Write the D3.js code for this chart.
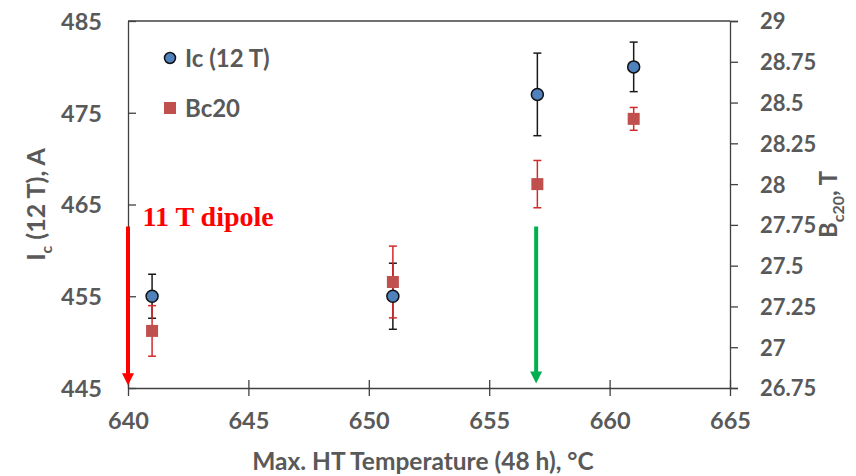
<!DOCTYPE html>
<html>
<head>
<meta charset="utf-8">
<script src="https://cdn.jsdelivr.net/npm/d3@7"></script>
<style>
  body { margin: 0; background: #fff; }
  text { font-family: Lato, "Open Sans", sans-serif; font-weight: bold; fill: #595959; }
</style>
</head>
<body>
<svg id="chart" width="856" height="476"></svg>
<script>
// Data
const temps = [641, 651, 657, 661];
const icValues = [455, 455, 477, 480];
const icErrors = [2.4, 3.6, 4.5, 2.7];
const bcValues = [27.1, 27.4, 28.0, 28.4];
const bcErrors = [0.155, 0.22, 0.145, 0.07];
const xTicks = [640, 645, 650, 655, 660, 665];
const leftTicks = [445, 455, 465, 475, 485];
const rightTicks = [26.75, 27, 27.25, 27.5, 27.75, 28, 28.25, 28.5, 28.75, 29];
const arrows = [
    { t: 640, from: 462.6, to: 445.3, color: "#ff0000" },
    { t: 656.95, from: 462.6, to: 445.5, color: "#00b050" }
];

const svg = d3.select("#chart");
const margin = { top: 21, right: 126, bottom: 88, left: 128 };
const width = 856 - margin.left - margin.right,
      height = 476 - margin.top - margin.bottom;
const g = svg.append("g").attr("transform", `translate(${margin.left},${margin.top})`);

// Scales
const x = d3.scaleLinear().domain([640, 665]).range([0, width]);
const yL = d3.scaleLinear().domain([445, 485]).range([height, 0]);
const yR = d3.scaleLinear().domain([26.75, 29]).range([height, 0]);

// Plot frame: top line
g.append("line")
    .attr("x1", 0).attr("x2", width).attr("y1", 0).attr("y2", 0)
    .attr("stroke", "#404040").attr("stroke-width", 1.3);

// Axes
const xAxis = g.append("g")
    .attr("transform", `translate(0,${height})`)
    .call(d3.axisBottom(x).tickValues(xTicks).tickSize(0).tickPadding(24).tickFormat(d3.format("d")));
xAxis.selectAll(".tick").append("line")
    .attr("y1", -8).attr("y2", 8).attr("stroke", "#404040").attr("stroke-width", 1.3);

const leftAxis = g.append("g")
    .call(d3.axisLeft(yL).tickValues(leftTicks).tickSizeInner(-8).tickSizeOuter(0).tickPadding(26));

const rightAxis = g.append("g")
    .attr("transform", `translate(${width},0)`)
    .call(d3.axisRight(yR).tickValues(rightTicks).tickSize(8).tickPadding(22).tickFormat(d => d3.format("")(d)));

[xAxis, leftAxis, rightAxis].forEach(a => {
    a.select(".domain").attr("stroke", "#404040").attr("stroke-width", 1.3);
    a.selectAll(".tick line").attr("stroke", "#404040").attr("stroke-width", 1.3);
    a.selectAll(".tick text").style("font-size", "23.5px").style("font-family", "Lato, sans-serif")
        .style("font-weight", "bold").attr("fill", "#595959");
});
leftAxis.selectAll(".tick text").attr("dy", "0.36em");
rightAxis.selectAll(".tick text").attr("dy", "0.36em").style("font-size", "22px");

// Arrows (shaft + head)
g.selectAll(".arrow-shaft")
    .data(arrows)
    .enter().append("line")
    .attr("class", "arrow-shaft")
    .attr("x1", d => x(d.t)).attr("x2", d => x(d.t))
    .attr("y1", d => yL(d.from)).attr("y2", d => yL(d.to) - 10)
    .attr("stroke", d => d.color)
    .attr("stroke-width", 4);

g.selectAll(".arrow-head")
    .data(arrows)
    .enter().append("path")
    .attr("class", "arrow-head")
    .attr("d", d => {
        const cx = x(d.t), tip = yL(d.to);
        return `M${cx - 6},${tip - 12} L${cx + 6},${tip - 12} L${cx},${tip} Z`;
    })
    .attr("fill", d => d.color);

// Annotation
g.append("text")
    .attr("x", x(640.6)).attr("y", yL(462.7))
    .style("font-family", "'Liberation Serif', 'Times New Roman', serif")
    .style("font-size", "28px")
    .style("fill", "#ff0000")
    .text("11 T dipole");

// Error bars
function errorBars(vals, errs, y, color, cls) {
    const eg = g.selectAll("." + cls)
        .data(temps.map((t, i) => ({ t, v: vals[i], e: errs[i] })))
        .enter().append("g").attr("class", cls);
    eg.append("line")
        .attr("x1", d => x(d.t)).attr("x2", d => x(d.t))
        .attr("y1", d => y(d.v - d.e)).attr("y2", d => y(d.v + d.e));
    eg.append("line")
        .attr("x1", d => x(d.t) - 4).attr("x2", d => x(d.t) + 4)
        .attr("y1", d => y(d.v - d.e)).attr("y2", d => y(d.v - d.e));
    eg.append("line")
        .attr("x1", d => x(d.t) - 4).attr("x2", d => x(d.t) + 4)
        .attr("y1", d => y(d.v + d.e)).attr("y2", d => y(d.v + d.e));
    eg.selectAll("line").attr("stroke", color).attr("stroke-width", 1.5);
}

errorBars(icValues, icErrors, yL, "#1a1a1a", "icErr");
errorBars(bcValues, bcErrors, yR, "#d42a2a", "bcErr");

// Bc20 squares
g.selectAll(".bc")
    .data(temps.map((t, i) => ({ t, v: bcValues[i] })))
    .enter().append("rect")
    .attr("class", "bc")
    .attr("x", d => x(d.t) - 6).attr("y", d => yR(d.v) - 6)
    .attr("width", 12).attr("height", 12)
    .attr("fill", "#c0504d");

// Ic circles
g.selectAll(".ic")
    .data(temps.map((t, i) => ({ t, v: icValues[i] })))
    .enter().append("circle")
    .attr("class", "ic")
    .attr("cx", d => x(d.t)).attr("cy", d => yL(d.v))
    .attr("r", 6)
    .attr("fill", "#4f81bd")
    .attr("stroke", "#111")
    .attr("stroke-width", 1.5);

// Legend
const legend = svg.append("g").attr("transform", "translate(170,58)");
legend.append("circle").attr("cx", 0).attr("cy", 0).attr("r", 5.5)
    .attr("fill", "#4f81bd").attr("stroke", "#111").attr("stroke-width", 1.5);
legend.append("text").attr("x", 15).attr("y", 9).style("font-size", "24px").text("Ic (12 T)");
legend.append("rect").attr("x", -6).attr("y", 44).attr("width", 12).attr("height", 12).attr("fill", "#c0504d");
legend.append("text").attr("x", 15).attr("y", 59).style("font-size", "24px").text("Bc20");

// Axis titles
svg.append("text")
    .attr("x", 423).attr("y", 470)
    .attr("text-anchor", "middle")
    .style("font-size", "24.5px")
    .text("Max. HT Temperature (48 h), °C");

const lt = svg.append("text")
    .attr("transform", `translate(45,${margin.top + height / 2}) rotate(-90)`)
    .attr("text-anchor", "middle")
    .style("font-size", "25px");
lt.append("tspan").text("I");
lt.append("tspan").attr("dy", 7).style("font-size", "16px").text("c");
lt.append("tspan").attr("dy", -7).text(" (12 T), A");

const rt = svg.append("text")
    .attr("transform", `translate(837,${margin.top + height / 2}) rotate(-90)`)
    .attr("text-anchor", "middle")
    .style("font-size", "24px");
rt.append("tspan").text("B");
rt.append("tspan").attr("dy", 7).style("font-size", "16px").text("c20");
rt.append("tspan").attr("dy", -7).text(", T");
</script>
</body>
</html>
